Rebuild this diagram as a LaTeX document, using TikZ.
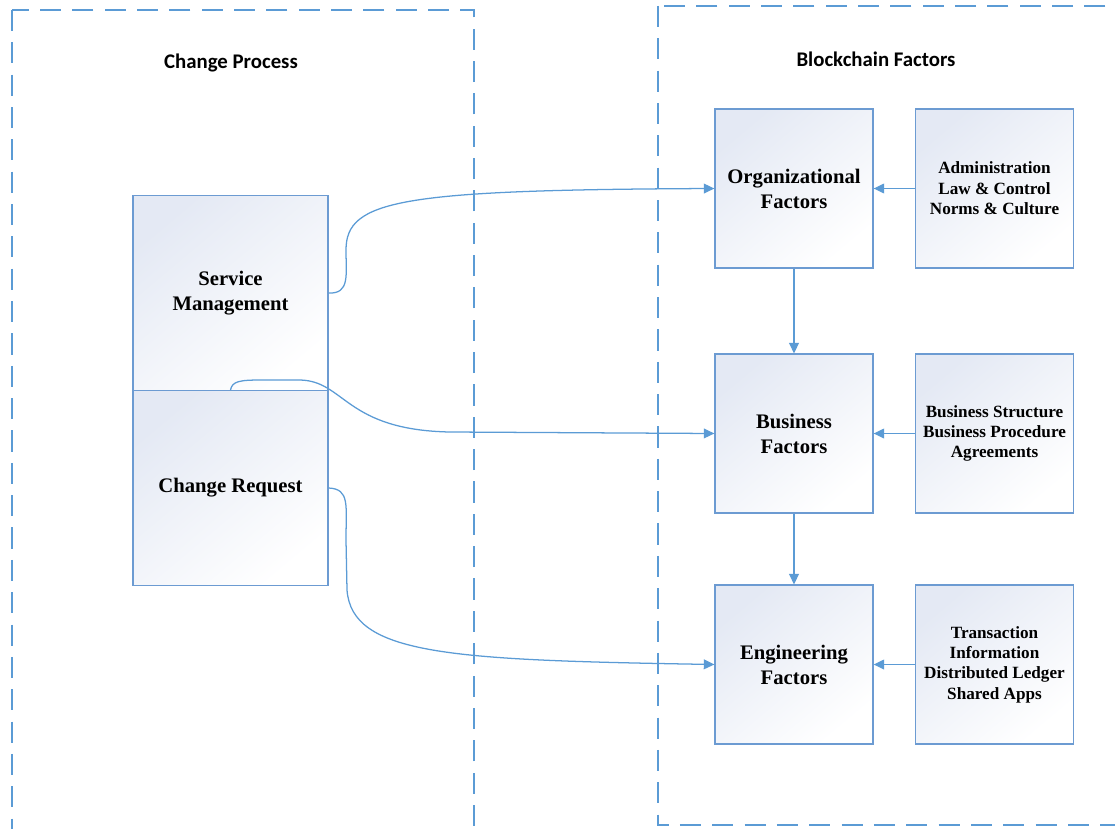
\documentclass[tikz,border=0pt]{standalone}
\usepackage{fontspec}
\setmainfont{Liberation Serif}
\newfontfamily\titlefont{Carlito}
\usetikzlibrary{arrows.meta}

\definecolor{frameblue}{HTML}{5B9BD5}
\definecolor{boxline}{HTML}{6C9BD2}
\definecolor{boxshade}{HTML}{E4E9F4}

\tikzset{
	factorbox/.style={draw=boxline, line width=0.9pt, inner sep=0pt,
		top color=boxshade, bottom color=white, shading angle=40,
		minimum width=3.95cm, minimum height=3.97cm, align=center,
		font=\bfseries\fontsize{14.7}{17.7}\selectfont},
	itembox/.style={factorbox, font=\bfseries\fontsize{12.2}{14.5}\selectfont},
	processbox/.style={factorbox, minimum width=4.875cm, minimum height=4.86cm},
	grouptitle/.style={font=\titlefont\bfseries\fontsize{14.8}{17}\selectfont},
	groupframe/.style={draw=frameblue, line width=0.9pt, dash pattern=on 15pt off 8pt},
	link/.style={draw=frameblue, line width=0.9pt, -{Triangle[length=7.5pt,width=7pt]}},
}

\begin{document}
\begin{tikzpicture}[x=0.025cm, y=-0.025cm]

	\useasboundingbox (0,0) rectangle (1115,828);
	\clip (0,0) rectangle (1115,828);

	% dashed groups
	\draw [groupframe] (12,10) rectangle (474,850);
	\draw [groupframe] (658,6) rectangle (1130,825);
	\node [grouptitle] (cpTitle) at (231,63) {Change Process};
	\node [grouptitle] (bcTitle) at (876,59) {Blockchain Factors};

	% change process
	\node [processbox] (sm) at (230.5,293) {Service\\Management};
	\node [processbox] (cr) at (230.5,488) {Change Request};

	% blockchain factors
	\node [factorbox] (org) at (794,188.5) {Organizational\\Factors};
	\node [factorbox] (biz) at (794,433.5) {Business\\Factors};
	\node [factorbox] (eng) at (794,664.5) {Engineering\\Factors};

	\node [itembox] (orgItems) at (994.5,188.5) {Administration\\Law \& Control\\Norms \& Culture};
	\node [itembox] (bizItems) at (994.5,433.5) {Business Structure\\Business Procedure\\Agreements};
	\node [itembox] (engItems) at (994.5,664.5) {Transaction\\Information\\Distributed Ledger\\Shared Apps};

	% right side arrows
	\draw [link] (orgItems) -- (org);
	\draw [link] (bizItems) -- (biz);
	\draw [link] (engItems) -- (eng);
	\draw [link] (org) -- (biz);
	\draw [link] (biz) -- (eng);

	% curved links
	\draw [link] (sm.east) .. controls (350,294) and (346,275) .. (346,250)
		.. controls (346,200) and (400,190) .. (org.west);
	\draw [link] (cr.north) .. controls (232,381) and (240,380) .. (262,380)
		-- (300,380) .. controls (345,381) and (345,430) .. (450,432) -- (biz.west);
	\draw [link] (cr.east) .. controls (350,489) and (346,505) .. (346,540)
		-- (347,590) .. controls (352,655) and (450,660) .. (eng.west);

\end{tikzpicture}
\end{document}
